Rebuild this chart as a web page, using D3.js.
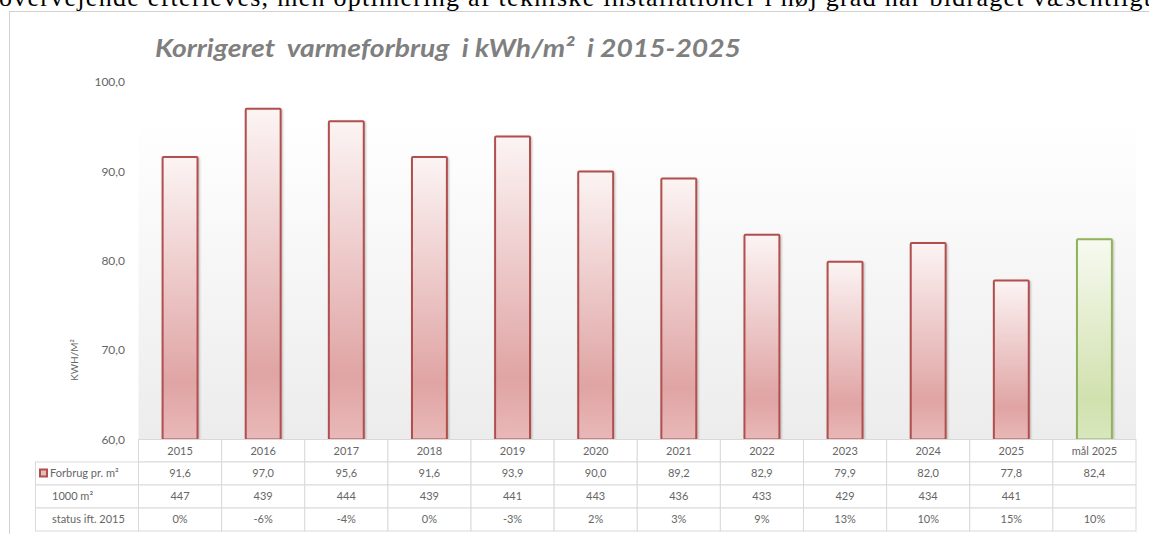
<!DOCTYPE html>
<html><head><meta charset="utf-8">
<script src="https://cdn.jsdelivr.net/npm/d3@7"></script>
<style>html,body{margin:0;padding:0;background:#fff;overflow:hidden}</style>
</head><body><svg id="c" width="1149" height="534"></svg>
<script>
const categories = ["2015","2016","2017","2018","2019","2020","2021","2022","2023","2024","2025","mål 2025"];
const forbrug = [91.6, 97.0, 95.6, 91.6, 93.9, 90.0, 89.2, 82.9, 79.9, 82.0, 77.8, 82.4];
const areal = [447, 439, 444, 439, 441, 443, 436, 433, 429, 434, 441, null];
const status = ["0%","-6%","-4%","0%","-3%","2%","3%","9%","13%","10%","15%","10%"];
const yTicks = [60, 70, 80, 90, 100];
const rowLabels = ["Forbrug pr. m²", "1000 m²", "status ift. 2015"];
const chartTitle = "Korrigeret  varmeforbrug  i kWh/m²  i 2015-2025";
const yAxisTitle = "KWH/M²";
const docText = "overvejende efterleves, men optimering af tekniske installationer i høj grad har bidraget væsentligt";

const svg = d3.select("#c");
const fmt = v => d3.format(".1f")(v).replace(".", ",");
const font = "Lato, 'Open Sans', sans-serif";
const txtCol = "#666666";
const gridCol = "#d9d9d9";

// defs
const defs = svg.append("defs");
function grad(id, stops, x2, y2) {
  const g = defs.append("linearGradient").attr("id", id)
    .attr("x1", 0).attr("y1", 0).attr("x2", 0).attr("y2", 1);
  stops.forEach(s => g.append("stop").attr("offset", s[0]).attr("stop-color", s[1]));
}
grad("gRed", [[0, "#fcf4f4"], [0.8, "#e0a4a4"], [1, "#e9b8b8"]]);
grad("gGreen", [[0, "#f7faf1"], [0.8, "#d1e1ae"], [1, "#d9e7bd"]]);
grad("gBg", [[0, "#ffffff"], [1, "#ececec"]]);
const f = defs.append("filter").attr("id", "sh").attr("x", "-20%").attr("y", "-5%").attr("width", "140%").attr("height", "110%");
f.append("feDropShadow").attr("dx", 1).attr("dy", 1).attr("stdDeviation", 1).attr("flood-color", "#000").attr("flood-opacity", 0.25);

// document text above chart
svg.append("text").attr("x", -1).attr("y", 6)
  .attr("font-family", "'Liberation Serif', 'Times New Roman', serif")
  .attr("font-size", 26).attr("fill", "#000")
  .attr("textLength", 1152).attr("lengthAdjust", "spacing")
  .text(docText);

// chart frame
svg.append("rect").attr("x", 9.5).attr("y", 11.5).attr("width", 1160).attr("height", 540)
  .attr("fill", "#fff").attr("stroke", "#d0d0d0");

// scales
const x = d3.scaleBand().domain(categories).range([138.5, 1136]).paddingInner(0).paddingOuter(0);
const y = d3.scaleLinear().domain([60, 100]).range([439.5, 82]);

// plot background
svg.append("rect").attr("x", x.range()[0]).attr("y", 120)
  .attr("width", x.range()[1] - x.range()[0]).attr("height", y(60) - 120)
  .attr("fill", "url(#gBg)");

// title
svg.append("text").attr("x", 155).attr("y", 57)
  .attr("font-family", font).attr("font-size", 24).attr("font-weight", "bold").attr("font-style", "italic")
  .attr("fill", "#7f7f7f").attr("textLength", 586).attr("lengthAdjust", "spacingAndGlyphs")
  .attr("xml:space", "preserve").style("white-space", "pre")
  .text(chartTitle);

// y axis
const yAxis = d3.axisLeft(y).tickValues(yTicks).tickFormat(fmt).tickSize(0).tickPadding(0);
const ga = svg.append("g").attr("transform", "translate(125,0)").call(yAxis);
ga.select(".domain").remove();
ga.selectAll("text").attr("font-family", font).attr("font-size", 12).attr("fill", txtCol);

svg.append("text").attr("transform", `translate(75,360) rotate(-90)`)
  .attr("text-anchor", "middle").attr("dominant-baseline", "middle")
  .attr("font-family", font).attr("font-size", 10).attr("fill", txtCol)
  .text(yAxisTitle);

// bars
const bw = x.bandwidth() * 0.42;
svg.append("g").selectAll("rect").data(categories).join("rect")
  .attr("x", d => x(d) + (x.bandwidth() - bw) / 2)
  .attr("y", (d, i) => y(forbrug[i]))
  .attr("width", bw)
  .attr("height", (d, i) => y(60) - y(forbrug[i]))
  .attr("rx", 1)
  .attr("fill", (d, i) => i === categories.length - 1 ? "url(#gGreen)" : "url(#gRed)")
  .attr("stroke", (d, i) => i === categories.length - 1 ? "#92b35c" : "#b0504d")
  .attr("stroke-width", 2)
  .attr("filter", "url(#sh)");

// data table
const rowTop = [439.5, 462, 485, 508, 531];
const legendX0 = 35.5;
const tbl = svg.append("g");
// header row (years)
tbl.append("g").selectAll("rect").data(categories).join("rect")
  .attr("x", d => x(d)).attr("y", rowTop[0]).attr("width", x.bandwidth()).attr("height", rowTop[1] - rowTop[0])
  .attr("fill", "#fff").attr("stroke", gridCol);
tbl.append("g").selectAll("text").data(categories).join("text")
  .attr("x", d => x(d) + x.bandwidth() / 2).attr("y", (rowTop[0] + rowTop[1]) / 2 + 1)
  .attr("text-anchor", "middle").attr("dominant-baseline", "middle")
  .attr("font-family", font).attr("font-size", 11).attr("fill", txtCol)
  .text(d => d);

const rows = [forbrug.map(fmt), areal.map(v => v == null ? "" : String(v)), status];
rows.forEach((vals, r) => {
  const y0 = rowTop[r + 1], y1 = rowTop[r + 2];
  tbl.append("rect").attr("x", legendX0).attr("y", y0).attr("width", x.range()[0] - legendX0).attr("height", y1 - y0)
    .attr("fill", "#fff").attr("stroke", gridCol);
  tbl.append("g").selectAll("rect").data(categories).join("rect")
    .attr("x", d => x(d)).attr("y", y0).attr("width", x.bandwidth()).attr("height", y1 - y0)
    .attr("fill", "#fff").attr("stroke", gridCol);
  tbl.append("g").selectAll("text").data(vals).join("text")
    .attr("x", (d, i) => x(categories[i]) + x.bandwidth() / 2).attr("y", (y0 + y1) / 2 + 1)
    .attr("text-anchor", "middle").attr("dominant-baseline", "middle")
    .attr("font-family", font).attr("font-size", 11).attr("fill", txtCol)
    .text(d => d);
  tbl.append("text").attr("x", r === 0 ? 50 : 52).attr("y", (y0 + y1) / 2 + 1)
    .attr("dominant-baseline", "middle")
    .attr("font-family", font).attr("font-size", 11).attr("fill", txtCol)
    .text(rowLabels[r]);
});
// legend key
tbl.append("rect").attr("x", 40).attr("y", 469.5).attr("width", 7).attr("height", 7)
  .attr("fill", "#eab9b9").attr("stroke", "#b0504d").attr("stroke-width", 2);
</script></body></html>
